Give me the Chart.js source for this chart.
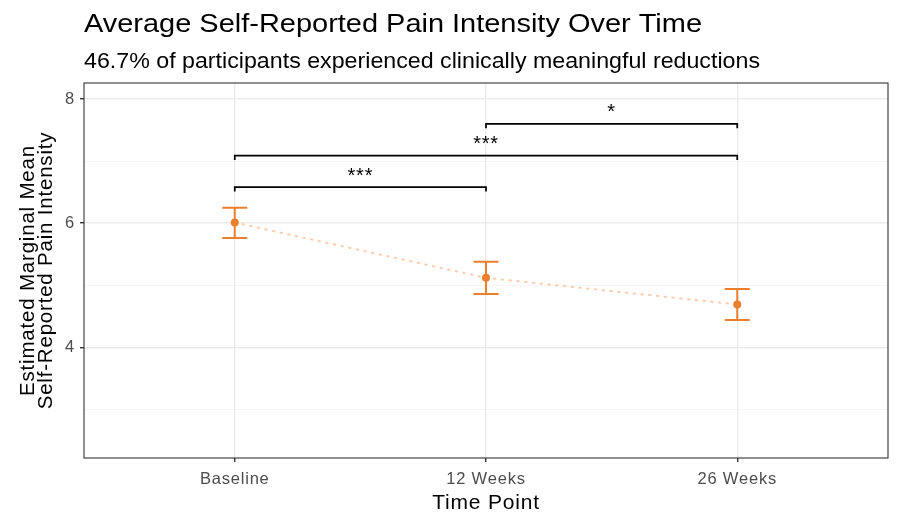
<!DOCTYPE html>
<html>
<head>
<meta charset="utf-8">
<script src="https://cdn.jsdelivr.net/npm/chart.js@4"></script>
<style>
  body { margin: 0; background: #fff; }
  #wrap { width: 900px; height: 525px; position: relative; }
</style>
</head>
<body>
<div id="wrap"><canvas id="painChart"></canvas></div>
<script>
const timePoints = ['Baseline', '12 Weeks', '26 Weeks'];
const meanPain = [6.01, 5.12, 4.69];
const lowerCI = [5.76, 4.86, 4.44];
const upperCI = [6.25, 5.38, 4.94];

// pairwise comparisons drawn as brackets
const bracketFrom = [0, 0, 1];
const bracketTo = [1, 2, 2];
const bracketLevel = [6.58, 7.09, 7.60];
const bracketStars = ['***', '***', '*'];

const titleText = 'Average Self-Reported Pain Intensity Over Time';
const subtitleText = '46.7% of participants experienced clinically meaningful reductions';

const ORANGE = '#EC7F2E';
const FONT = '"Liberation Sans", Arial, sans-serif';

// draw text stretched to a given width
function wideText(ctx, text, x, y, width) {
  const w = ctx.measureText(text).width;
  ctx.save();
  ctx.translate(x, y);
  ctx.scale(width / w, 1);
  ctx.fillText(text, 0, 0);
  ctx.restore();
}

const extras = {
  id: 'extras',
  beforeDraw(chart) {
    // slightly wider text, like the original renderer
    chart.ctx.letterSpacing = '0.8px';
  },
  beforeDatasetsDraw(chart) {
    const { ctx, chartArea: a } = chart;
    ctx.save();
    ctx.fillStyle = '#000';
    ctx.textAlign = 'left';
    ctx.textBaseline = 'alphabetic';
    ctx.letterSpacing = '0px';
    ctx.font = '26px ' + FONT;
    wideText(ctx, titleText, a.left, 31.5, 618);
    ctx.font = '22px ' + FONT;
    wideText(ctx, subtitleText, a.left, 68, 676);
    ctx.restore();
  },
  afterDatasetsDraw(chart) {
    const { ctx, chartArea: a, scales: { x, y } } = chart;
    ctx.save();
    // error bars
    ctx.strokeStyle = ORANGE;
    ctx.lineWidth = 2;
    meanPain.forEach((m, i) => {
      const px = x.getPixelForValue(i);
      const yt = y.getPixelForValue(upperCI[i]);
      const yb = y.getPixelForValue(lowerCI[i]);
      ctx.beginPath();
      ctx.moveTo(px, yt); ctx.lineTo(px, yb);
      ctx.moveTo(px - 12.5, yt); ctx.lineTo(px + 12.5, yt);
      ctx.moveTo(px - 12.5, yb); ctx.lineTo(px + 12.5, yb);
      ctx.stroke();
    });
    // significance brackets
    ctx.strokeStyle = '#000';
    ctx.lineWidth = 1.7;
    ctx.fillStyle = '#000';
    ctx.font = '20px ' + FONT;
    ctx.textAlign = 'center';
    ctx.textBaseline = 'middle';
    bracketFrom.forEach((f, i) => {
      const x1 = x.getPixelForValue(f);
      const x2 = x.getPixelForValue(bracketTo[i]);
      const by = y.getPixelForValue(bracketLevel[i]);
      const tip = y.getPixelForValue(bracketLevel[i] - 0.07);
      ctx.beginPath();
      ctx.moveTo(x1, tip); ctx.lineTo(x1, by); ctx.lineTo(x2, by); ctx.lineTo(x2, tip);
      ctx.stroke();
      ctx.fillText(bracketStars[i], (x1 + x2) / 2, by - 11);
    });
    // panel border
    ctx.strokeStyle = '#333';
    ctx.lineWidth = 1.1;
    ctx.strokeRect(a.left, a.top, a.right - a.left, a.bottom - a.top);
    ctx.restore();
  }
};

new Chart(document.getElementById('painChart'), {
  type: 'line',
  data: {
    datasets: [
      {
        data: meanPain.map((v, i) => ({ x: i, y: v })),
        borderColor: 'rgba(236,127,46,0.38)',
        borderWidth: 2,
        borderDash: [1.6, 6.2],
        borderCapStyle: 'round',
        pointRadius: 0,
        fill: false,
        order: 2
      },
      {
        data: meanPain.map((v, i) => ({ x: i, y: v })),
        showLine: false,
        pointRadius: 4,
        pointBackgroundColor: ORANGE,
        pointBorderColor: ORANGE,
        pointBorderWidth: 0,
        order: 1
      }
    ]
  },
  options: {
    responsive: true,
    maintainAspectRatio: false,
    animation: false,
    layout: { padding: { top: 83, right: 12, left: 0, bottom: 0 } },
    plugins: {
      legend: { display: false },
      tooltip: { enabled: false }
    },
    scales: {
      x: {
        type: 'linear',
        min: -0.6,
        max: 2.6,
        afterBuildTicks: s => { s.ticks = timePoints.map((_, i) => ({ value: i })); },
        afterFit: s => { s.height = 67; },
        ticks: {
          callback: v => timePoints[v],
          color: '#4D4D4D',
          font: { family: FONT, size: 16.5 },
          padding: 8
        },
        grid: { color: '#EBEBEB', lineWidth: 1.4, tickColor: '#333', tickLength: 4 },
        border: { display: false },
        title: {
          display: true,
          text: 'Time Point',
          color: '#000',
          font: { family: FONT, size: 21 },
          padding: { top: 0, bottom: 9 }
        }
      },
      y: {
        min: 2.215,
        max: 8.26,
        afterBuildTicks: s => { s.ticks = [3, 4, 5, 6, 7, 8].map(v => ({ value: v })); },
        afterFit: s => { s.width = 84; },
        ticks: {
          callback: v => (v % 2 === 0 ? v : ''),
          color: '#4D4D4D',
          font: { family: FONT, size: 16.5 },
          padding: 5
        },
        grid: {
          color: c => (c.tick && c.tick.value % 2 === 0 ? '#EBEBEB' : '#F2F2F2'),
          lineWidth: c => (c.tick && c.tick.value % 2 === 0 ? 1.4 : 0.8),
          tickColor: c => (c.tick && c.tick.value % 2 === 0 ? '#333' : 'rgba(0,0,0,0)'),
          tickLength: 4
        },
        border: { display: false },
        title: {
          display: true,
          text: ['Estimated Marginal Mean', 'Self-Reported Pain Intensity'],
          color: '#000',
          font: { family: FONT, size: 20.5, lineHeight: 0.9 },
          padding: { top: 19, bottom: 0 }
        }
      }
    }
  },
  plugins: [extras]
});
</script>
</body>
</html>
